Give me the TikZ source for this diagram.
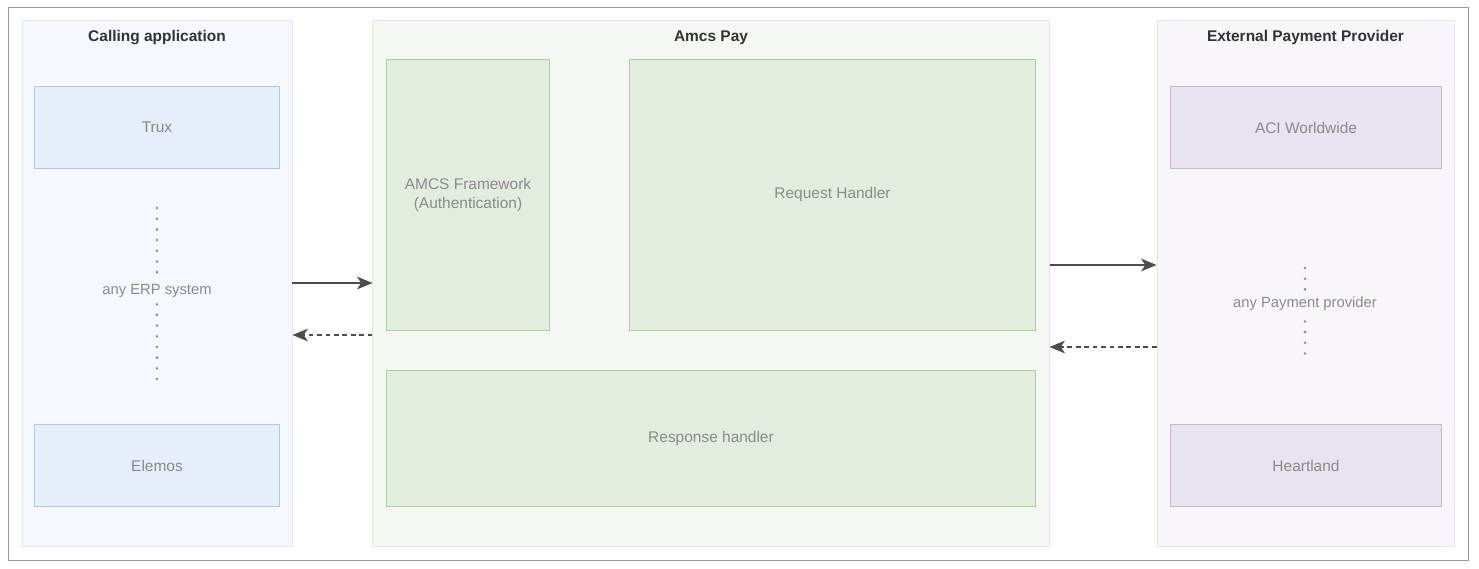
\documentclass[tikz,border=0pt]{standalone}
\usepackage{fontspec}
\setmainfont{Liberation Sans}
\usetikzlibrary{positioning,arrows.meta}

\definecolor{frameGray}{HTML}{9A9A9A}
\definecolor{titleGray}{HTML}{333333}
\definecolor{textGray}{HTML}{8A8A8A}
\definecolor{arrowGray}{HTML}{4D4D4D}
\definecolor{blueBack}{HTML}{F5F8FE}
\definecolor{blueLine}{HTML}{DDE7F8}
\definecolor{blueFill}{HTML}{E6EEFC}
\definecolor{blueBox}{HTML}{AFC7EA}
\definecolor{greenBack}{HTML}{F4F8F2}
\definecolor{greenLine}{HTML}{DCEBD8}
\definecolor{greenFill}{HTML}{E2EDE0}
\definecolor{greenBox}{HTML}{A9D19A}
\definecolor{violetBack}{HTML}{F8F6FA}
\definecolor{violetLine}{HTML}{ECE3F1}
\definecolor{violetFill}{HTML}{E9E2EF}
\definecolor{violetBox}{HTML}{CBB4D8}

\begin{document}
\begin{tikzpicture}[x=0.025cm,y=-0.025cm,
		every node/.style={font=\fontsize{11}{13}\selectfont},
		panel/.style={draw=#1Line,fill=#1Back,line width=0.6pt,minimum height=13.15cm},
		box/.style={draw=#1Box,fill=#1Fill,line width=0.7pt,text=textGray,align=center},
		paneltitle/.style={font=\fontsize{11}{13}\selectfont\bfseries,text=titleGray},
		dots/.style={draw=textGray,line width=2pt,line cap=round,dash pattern=on 0pt off 7.6pt},
		dotlabel/.style={fill=#1Back,text=textGray,inner xsep=1pt,inner ysep=3pt,font=\fontsize{10.5}{12}\selectfont},
		flow/.style={draw=arrowGray,line width=0.9pt,-{Stealth[length=11pt,width=9pt,inset=3pt]}},
		back/.style={flow,dash pattern=on 3.4pt off 2.6pt}]
		\useasboundingbox (0,0) rectangle (1479,569);
		\draw[frameGray,line width=0.7pt] (8,7) rectangle (1468,560);
		
		% three panels
		\node[panel=blue,minimum width=6.75cm] (ca) at (157,283) {};
		\node[panel=green,minimum width=16.9cm] (pay) at (711,283) {};
		\node[panel=violet,minimum width=7.425cm] (ext) at (1305.5,283) {};
		\node[paneltitle] at (157,38) {Calling application};
		\node[paneltitle] at (711,38) {Amcs Pay};
		\node[paneltitle] at (1305.5,38) {External Payment Provider};
		
		% calling application
		\node[box=blue,minimum width=6.1cm,minimum height=2.025cm] (trux) at (157,127.5) {Trux};
		\node[box=blue,minimum width=6.1cm,minimum height=2.025cm] (elemos) at (157,465.5) {Elemos};
		\draw[dots] (157,208)--(157,385);
		\node[dotlabel=blue] (erp) at (157,291) {any ERP system};
		
		% amcs pay
		\node[box=green,minimum width=4.05cm,minimum height=6.75cm] (frame) at (468,195) {AMCS Framework\\(Authentication)};
		\node[box=green,minimum width=10.125cm,minimum height=6.75cm] (req) at (832.5,195) {Request Handler};
		\node[box=green,minimum width=16.2cm,minimum height=3.375cm] (resp) at (711,438.5) {Response handler};
		
		% payment providers
		\node[box=violet,minimum width=6.75cm,minimum height=2.025cm] (aci) at (1306,127.5) {ACI Worldwide};
		\node[box=violet,minimum width=6.75cm,minimum height=2.025cm] (heart) at (1306,465.5) {Heartland};
		\draw[dots] (1305,268)--(1305,358);
		\node[dotlabel=violet] (anypay) at (1305,304) {any Payment provider};
		
		% connectors
		\draw[flow] (ca.east) -- (pay.west);
		\draw[back] ([yshift=-1.3cm]pay.west) -- ([yshift=-1.3cm]ca.east);
		\draw[flow] ([yshift=0.45cm]pay.east) -- ([yshift=0.45cm]ext.west);
		\draw[back] ([yshift=-1.6cm]ext.west) -- ([yshift=-1.6cm]pay.east);
	\end{tikzpicture}
\end{document}
